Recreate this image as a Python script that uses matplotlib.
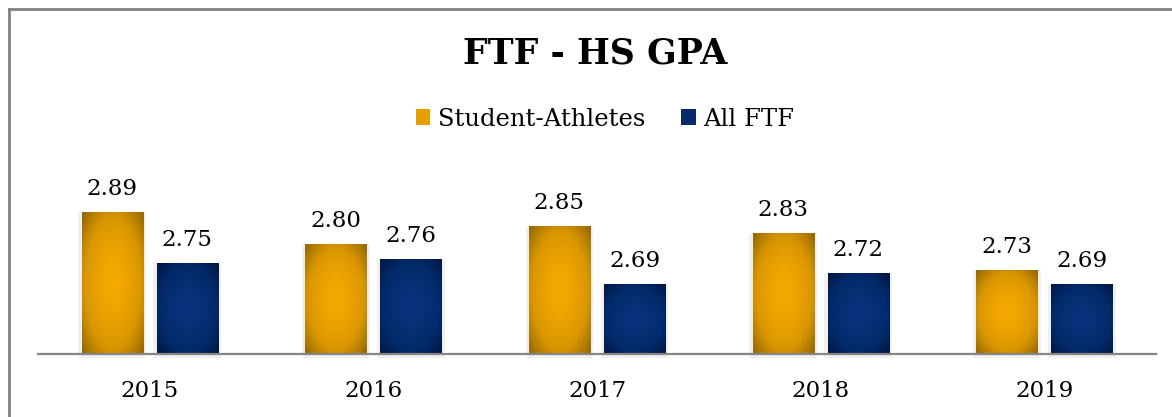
import numpy as np
import matplotlib.pyplot as plt
from matplotlib.patches import Rectangle, Patch
from matplotlib.colors import LinearSegmentedColormap
from matplotlib.lines import Line2D

years = ["2015", "2016", "2017", "2018", "2019"]
athletes = [2.89, 2.80, 2.85, 2.83, 2.73]
all_ftf = [2.75, 2.76, 2.69, 2.72, 2.69]

plt.rcParams["font.family"] = "DejaVu Serif"

gold_map = LinearSegmentedColormap.from_list("gold", ["#f5aa00", "#d99600", "#8f6600"])
blue_map = LinearSegmentedColormap.from_list("blue", ["#08327c", "#032a6a", "#001640"])

# radial shading used inside every bar
u, v = np.meshgrid(np.linspace(-1, 1, 60), np.linspace(-1, 1, 120))
shade = np.clip(np.sqrt(u ** 2 + v ** 2) / np.sqrt(2), 0, 1) ** 1.6


def shaded_bar(ax, x, height, width, base, cmap):
    # soft grey shadow behind the bar
    ax.add_patch(Rectangle((x - width / 2 - 0.015, base - 0.01), width + 0.03,
                           height - base + 0.01, facecolor="#f0f0f0",
                           edgecolor="none", zorder=1, clip_on=False))
    ax.imshow(shade, cmap=cmap, vmin=0, vmax=1, aspect="auto", zorder=2,
              extent=(x - width / 2, x + width / 2, base, height),
              interpolation="bilinear")


fig = plt.figure(figsize=(11.72, 4.17), dpi=100)
ax = fig.add_axes([38 / 1172, 63 / 417, 1118 / 1172, 218.4 / 417])

base = 2.5
width = 0.273
offset = 0.168
x = np.arange(len(years))

for i in x:
    shaded_bar(ax, i - offset, athletes[i], width, base, gold_map)
    shaded_bar(ax, i + offset, all_ftf[i], width, base, blue_map)
    ax.annotate(f"{athletes[i]:.2f}", (i - offset, athletes[i]), xytext=(0, 9),
                textcoords="offset points", ha="center", va="bottom", fontsize=16.5)
    ax.annotate(f"{all_ftf[i]:.2f}", (i + offset, all_ftf[i]), xytext=(0, 9),
                textcoords="offset points", ha="center", va="bottom", fontsize=16.5)

ax.set_xlim(-0.5, len(years) - 0.5)
ax.set_ylim(base, 3.1)
ax.set_xticks(x)
ax.set_xticklabels(years, fontsize=16.5)
ax.tick_params(axis="x", length=0, pad=19)
ax.set_yticks([])
for side in ["top", "right", "left"]:
    ax.spines[side].set_visible(False)
ax.spines["bottom"].set_color("#868686")
ax.spines["bottom"].set_linewidth(1.6)
ax.spines["bottom"].set_zorder(3)

fig.text(595 / 1172, 1 - 54 / 417, "FTF - HS GPA", ha="center", va="center",
         fontsize=25, fontweight="bold")

handles = [Patch(facecolor="#e3a000", edgecolor="none", label="Student-Athletes"),
           Patch(facecolor="#062a6c", edgecolor="none", label="All FTF")]
fig.legend(handles=handles, loc="center", bbox_to_anchor=(605 / 1172, 1 - 119 / 417),
           ncol=2, frameon=False, fontsize=17.5, handlelength=0.6, handleheight=0.6,
           handletextpad=0.3, columnspacing=1.5)

# chart frame: grey line along the left and top edges
fig.add_artist(Line2D([9 / 1172, 9 / 1172], [0, 1 - 9 / 417], color="#808080", lw=2))
fig.add_artist(Line2D([9 / 1172, 1], [1 - 9 / 417, 1 - 9 / 417], color="#808080", lw=2))

fig.savefig("out.png", dpi=100)
